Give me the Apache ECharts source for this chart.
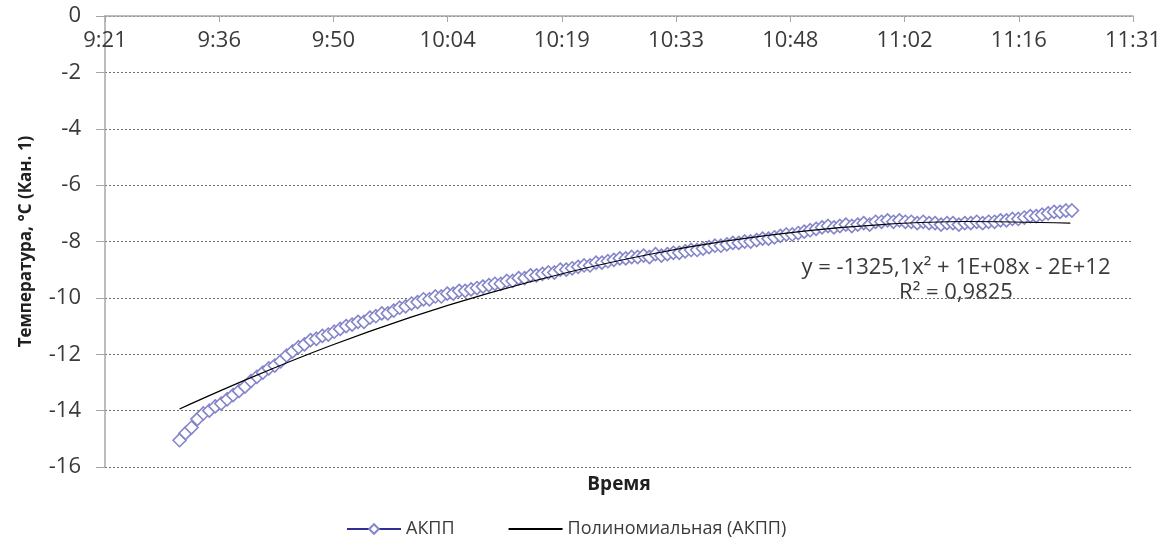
<!DOCTYPE html>
<html><head><meta charset="utf-8">
<script src="https://cdn.jsdelivr.net/npm/echarts@6/dist/echarts.min.js"></script>
<style>html,body{margin:0;padding:0;background:#fff}#c{width:1166px;height:554px}</style>
</head><body><div id="c"></div>
<script>
// time in minutes after midnight; one reading every 45 s starting at 9:31
const startMinute = 571;
const stepMinutes = 0.75;
const temps = [
  -15.05,-14.8,-14.6,-14.3,-14.1,-14.0,-13.85,-13.75,-13.6,-13.45,
  -13.3,-13.15,-12.95,-12.8,-12.65,-12.5,-12.4,-12.25,-12.05,-11.9,
  -11.75,-11.65,-11.5,-11.45,-11.35,-11.3,-11.2,-11.1,-11.0,-10.95,
  -10.85,-10.85,-10.7,-10.65,-10.55,-10.55,-10.45,-10.35,-10.3,-10.2,
  -10.15,-10.05,-10.05,-9.95,-9.95,-9.85,-9.85,-9.75,-9.75,-9.7,
  -9.65,-9.6,-9.55,-9.5,-9.5,-9.4,-9.4,-9.3,-9.3,-9.2,
  -9.2,-9.15,-9.1,-9.1,-9.0,-9.0,-8.95,-8.9,-8.85,-8.85,
  -8.75,-8.75,-8.7,-8.65,-8.6,-8.6,-8.55,-8.55,-8.5,-8.55,
  -8.45,-8.5,-8.45,-8.4,-8.4,-8.35,-8.3,-8.3,-8.25,-8.2,
  -8.15,-8.15,-8.1,-8.05,-8.05,-8.0,-8.0,-7.95,-7.9,-7.9,
  -7.85,-7.8,-7.75,-7.75,-7.7,-7.65,-7.6,-7.55,-7.5,-7.45,
  -7.5,-7.45,-7.4,-7.45,-7.4,-7.35,-7.4,-7.3,-7.3,-7.25,
  -7.3,-7.25,-7.3,-7.3,-7.35,-7.3,-7.35,-7.35,-7.4,-7.35,
  -7.35,-7.4,-7.35,-7.35,-7.3,-7.35,-7.3,-7.3,-7.25,-7.25,
  -7.2,-7.2,-7.15,-7.1,-7.1,-7.05,-7.0,-6.95,-6.95,-6.9,
  -6.9
];
const trendMinutes = [571,580,590,600,610,620,630,640,650,660,670,683.3];
const trendValues  = [-13.94,-12.83,-11.70,-10.70,-9.83,-9.09,-8.47,-7.98,-7.62,-7.39,-7.29,-7.35];
const seriesNames = ['АКПП','Полиномиальная (АКПП)'];
const yTitle = 'Температура, °C (Кан. 1)';
const xTitle = 'Время';
const eqLines = ['y = -1325,1x² + 1E+08x - 2E+12','R² = 0,9825'];
const xMin = 561.6, xMax = 691.2, xStep = 14.4;   // 9:21 .. 11:31
const yMin = -16, yMax = 0, yStep = 2;

function fmtTime(v){
  const m = Math.floor(v + 1e-6);
  const h = Math.floor(m/60), mm = m % 60;
  return h + ':' + (mm < 10 ? '0' : '') + mm;
}
const FONT = 'Open Sans';
const chart = echarts.init(document.getElementById('c'), null, {renderer:'canvas'});
chart.setOption({
  animation:false,
  backgroundColor:'#fff',
  textStyle:{fontFamily:FONT},
  grid:{left:105,right:33,top:16,bottom:87,containLabel:false},
  xAxis:{
    type:'value', position:'top', min:xMin, max:xMax, interval:xStep,
    axisLine:{show:true,onZero:false,lineStyle:{color:'#a6a6a6',width:1.5}},
    axisTick:{show:true,inside:true,length:6,lineStyle:{color:'#a6a6a6'}},
    axisLabel:{inside:true,margin:14,fontSize:22,color:'#3a3a3a',fontFamily:FONT,formatter:fmtTime,showMinLabel:true,showMaxLabel:true},
    splitLine:{show:false}
  },
  yAxis:{
    type:'value', min:yMin, max:yMax, interval:yStep,
    name:yTitle, nameLocation:'middle', nameGap:70,
    nameTextStyle:{fontSize:17,fontWeight:'bold',color:'#202020',fontFamily:FONT},
    axisLine:{show:true,lineStyle:{color:'#a6a6a6',width:1.5}},
    axisTick:{show:true,length:9,lineStyle:{color:'#a6a6a6'}},
    axisLabel:{margin:24,fontSize:22,color:'#3a3a3a',fontFamily:FONT},
    splitLine:{show:true,lineStyle:{color:'#6f6f6f',width:1,type:[2,2]}}
  },
  legend:{
    left:341, top:515, itemWidth:54, itemHeight:12, itemGap:53,
    textStyle:{fontSize:18,color:'#3a3a3a',fontFamily:FONT},
    data:[{name:seriesNames[0]},{name:seriesNames[1],itemStyle:{opacity:0}}]
  },
  graphic:[
    {type:'text',style:{text:xTitle,x:619,y:485,align:'center',verticalAlign:'middle',font:'bold 19px "Open Sans"',fill:'#202020'}},
    {type:'text',style:{text:eqLines[0],x:956,y:268,align:'center',verticalAlign:'middle',font:'22px "Open Sans"',fill:'#3a3a3a'}},
    {type:'text',style:{text:eqLines[1],x:956,y:293,align:'center',verticalAlign:'middle',font:'22px "Open Sans"',fill:'#3a3a3a'}}
  ],
  series:[
    {
      name:seriesNames[0], type:'line',
      data:temps.map((v,i)=>[startMinute+i*stepMinutes, v]),
      symbol:'diamond', symbolSize:13, showAllSymbol:true,
      itemStyle:{color:'#ffffff',borderColor:'#8585cc',borderWidth:1.6},
      lineStyle:{color:'#2e3192',width:2.5},
      z:2
    },
    {
      name:seriesNames[1], type:'line',
      data:trendMinutes.map((m,i)=>[m, trendValues[i]]),
      smooth:0.4, symbol:'none',
      lineStyle:{color:'#000000',width:1.2},
      itemStyle:{color:'#000000'},
      z:3
    }
  ]
});
</script></body></html>
